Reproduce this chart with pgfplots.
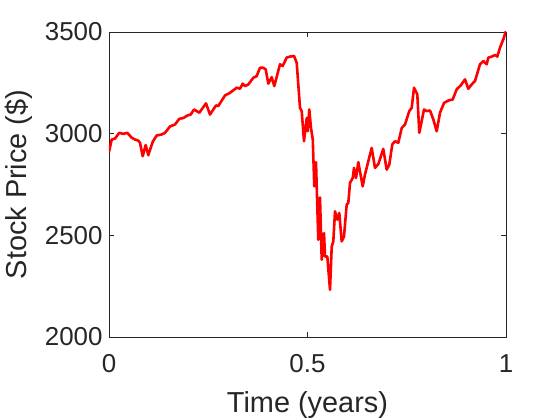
\documentclass[border=0pt]{standalone}
\usepackage{pgfplots}
\pgfplotsset{compat=1.18}
\usepackage{fontspec}
\setmainfont{Liberation Sans}
\definecolor{axgray}{HTML}{262626}
\begin{document}
\begin{tikzpicture}
% fix the page to 560x420 bp around a 397x305 bp axis box
\useasboundingbox (-109bp,-83bp) rectangle (451bp,337bp);
\begin{axis}[
  at={(0,0)}, anchor=south west,
  scale only axis,
  width=397bp, height=305bp,
  xmin=0, xmax=1, ymin=2000, ymax=3500,
  xtick={0,0.5,1}, ytick={2000,2500,3000,3500},
  xticklabels={0,0.5,1},
  scaled ticks=false,
  tick align=inside,
  major tick length=5bp,
  axis line style={axgray, line width=0.6bp},
  tick style={axgray, line width=0.6bp},
  /pgf/number format/assume math mode=true,
  /pgf/number format/1000 sep={},
  ticklabel style={font=\fontsize{26}{30}\selectfont, text=axgray},
  xticklabel style={yshift=-14bp},
  yticklabel style={xshift=-3bp},
  label style={font=\fontsize{29}{33}\selectfont, text=axgray},
  xlabel={Time (years)},
  ylabel={Stock Price (\$)},
  xlabel style={at={(axis description cs:0.5,0)}, anchor=base, yshift=-75bp},
  ylabel style={at={(axis description cs:0,0.5)}, anchor=base, yshift=82bp},
]
\addplot[red, line width=2.6bp, line join=round, mark=none] table {
t p
0 2910
0.0068 2971
0.0151 2976
0.0259 3004
0.036 2999
0.0461 3004
0.0572 2980
0.0655 2971
0.0738 2966
0.0781 2955
0.0849 2889
0.0924 2944
0.099 2894
0.1101 2960
0.1202 2991
0.1327 2996
0.1411 3004
0.1537 3036
0.1662 3045
0.1771 3073
0.1872 3077
0.1972 3089
0.2058 3094
0.2141 3119
0.2275 3103
0.2443 3149
0.2544 3094
0.2695 3139
0.2753 3136
0.2922 3188
0.3048 3201
0.3217 3226
0.33 3221
0.3368 3246
0.3426 3234
0.3509 3242
0.3635 3275
0.372 3283
0.3804 3324
0.3887 3324
0.3947 3316
0.4013 3246
0.4098 3278
0.4164 3234
0.4307 3341
0.4375 3333
0.4476 3374
0.4559 3379
0.466 3382
0.4728 3349
0.4811 3127
0.4854 3111
0.4912 2963
0.498 3077
0.5005 3012
0.5045 3119
0.5088 3028
0.5133 2971
0.5171 2741
0.5214 2860
0.5272 2478
0.5315 2686
0.5358 2380
0.5416 2511
0.5441 2396
0.5499 2396
0.5567 2232
0.5610 2445
0.565 2470
0.5693 2618
0.5751 2577
0.5801 2610
0.5861 2470
0.5919 2494
0.5987 2651
0.6028 2659
0.6071 2758
0.6139 2782
0.6171 2832
0.6222 2782
0.628 2860
0.639 2741
0.6448 2799
0.6531 2864
0.6617 2930
0.67 2832
0.6783 2850
0.6909 2925
0.6995 2823
0.706 2848
0.7136 2947
0.7204 2963
0.7287 2955
0.7373 3028
0.7456 3045
0.7564 3111
0.7625 3127
0.7683 3226
0.7766 3193
0.7816 3004
0.7935 3119
0.8003 3111
0.8086 3114
0.8169 3070
0.8254 3012
0.8338 3103
0.8438 3151
0.8547 3163
0.8657 3168
0.8758 3218
0.8859 3237
0.8967 3267
0.905 3221
0.9136 3242
0.9219 3259
0.9345 3341
0.9428 3357
0.9514 3341
0.9554 3374
0.964 3379
0.9723 3387
0.9781 3379
0.9849 3423
0.9932 3464
1.0 3505
};
\end{axis}
\end{tikzpicture}
\end{document}
